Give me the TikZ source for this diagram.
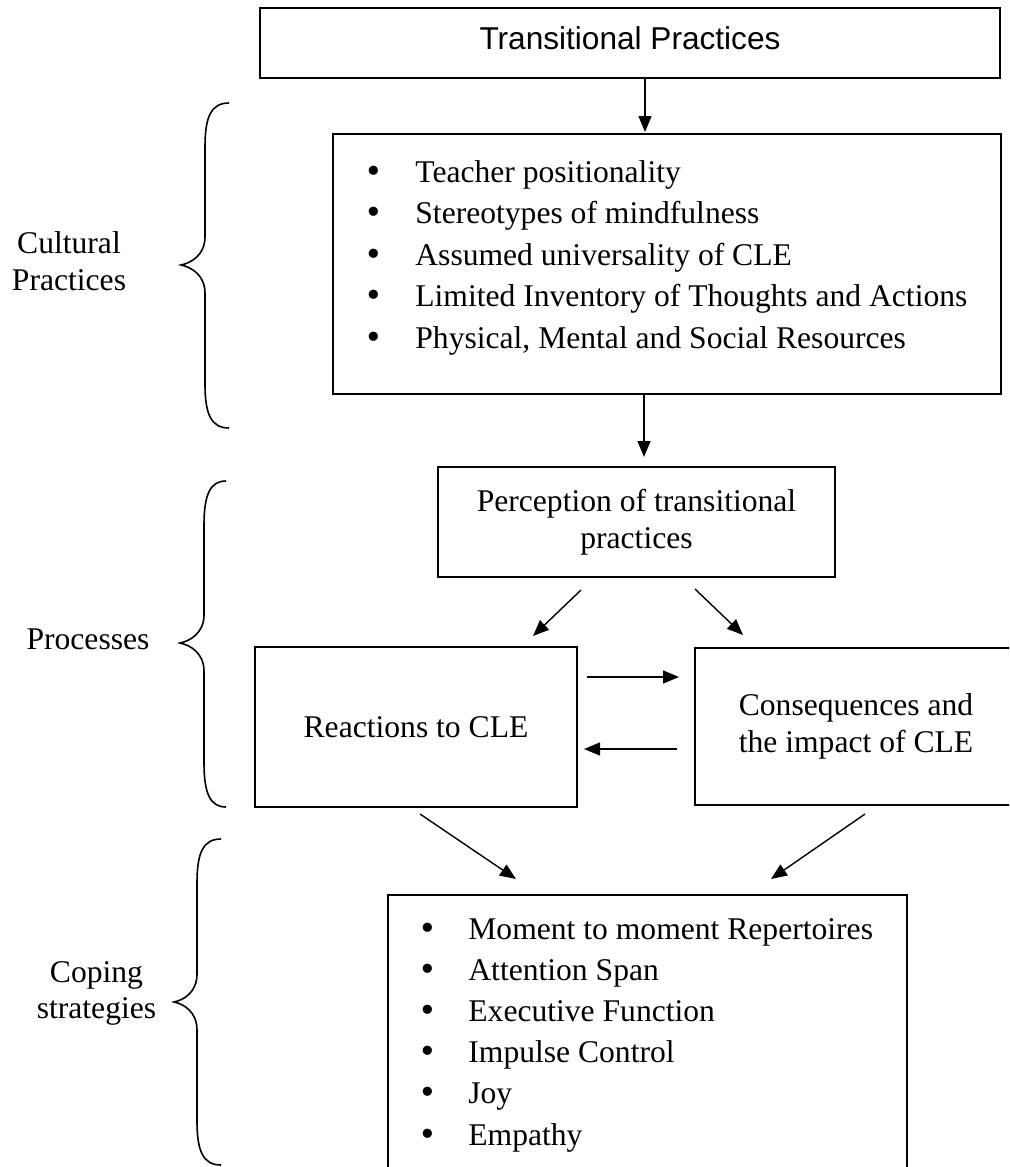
\documentclass[tikz,border=0pt]{standalone}
\usepackage{fontspec}
\setmainfont{Liberation Serif}
\newfontfamily\arialf{Liberation Sans}
\newfontfamily\bulf{DejaVu Sans}
\usetikzlibrary{arrows.meta,calc}
\newcommand\myfs{\fontsize{15.8}{18.75}\selectfont}
\newcommand\mybul{\makebox[0pt]{{\bulf •}}}
\newcommand\wbrace[6]{% xe xs xt yt ym yb
  \draw[brc] (#1,#4) .. controls ({#2+6},#4) and (#2,{#4+14}) .. (#2,{#4+44})
    -- (#2,{#5-28}) .. controls (#2,{#5-10}) and ({#3+10},{#5-2}) .. (#3,#5)
    .. controls ({#3+10},{#5+2}) and (#2,{#5+10}) .. (#2,{#5+28})
    -- (#2,{#6-44}) .. controls (#2,{#6-14}) and ({#2+6},#6) .. (#1,#6);}
\begin{document}
\begin{tikzpicture}[x=0.5pt,y=-0.5pt,
  box/.style={draw, line width=1pt, inner sep=0pt, align=center, font=\myfs},
  arr/.style={line width=0.7pt, -{Triangle[length=8pt,width=6.5pt]}},
  item/.style={anchor=base west, inner sep=0pt, font=\myfs},
  lbl/.style={anchor=base, inner sep=0pt, font=\myfs},
  brc/.style={line width=0.8pt}]
\path[use as bounding box] (0,0) rectangle (1009,1167);
\clip (0,0) rectangle (1009,1167);

% boxes
\node[box, minimum width=370pt, minimum height=35pt, text height=11.3pt, text depth=5.3pt] (title) at (630,43) {\arialf Transitional Practices};
\node[box, minimum width=334pt, minimum height=130pt] (cult) at (667,264) {};
\foreach \t [count=\i] in {Teacher positionality, Stereotypes of mindfulness, Assumed universality of CLE, Limited Inventory of Thoughts and Actions, {Physical, Mental and Social Resources}}
  \node[item] (cult\i) at (373,{182+41.5*(\i-1)}) {\mybul\hspace{21pt}\t};
\node[box, minimum width=198.5pt, minimum height=55pt] (perc) at (636.5,522) {Perception of transitional\\practices};
\node[box, minimum width=161pt, minimum height=80pt] (react) at (416,727) {Reactions to CLE};
\node[box, minimum width=161pt, minimum height=78.5pt] (cons) at (856,726.5) {Consequences and\\the impact of CLE};
\node[box, minimum width=259.5pt, minimum height=160pt] (cope) at (647.5,1055) {};
\foreach \t [count=\i] in {Moment to moment Repertoires, Attention Span, Executive Function, Impulse Control, Joy, Empathy}
  \node[item] (cope\i) at (427,{939+41.2*(\i-1)}) {\mybul\hspace{20.5pt}\t};

% side labels
\node[lbl] (l1a) at (69,253) {Cultural};
\node[lbl] (l1b) at (69,290) {Practices};
\node[lbl] (l2) at (88,649) {Processes};
\node[lbl] (l3a) at (96.5,982) {Coping};
\node[lbl] (l3b) at (96.5,1018) {strategies};

% braces
\wbrace{229}{205}{181}{103}{265}{428}
\wbrace{226}{204}{180}{481}{643}{807}
\wbrace{221}{197}{174}{839}{1002}{1165}

% arrows
\draw[arr] ($(title.south)+(15,0)$) -- ($(cult.north)+(-22,-1)$);
\draw[arr] ($(cult.south)+(-23,0)$) -- ($(perc.north)+(7.5,-9)$);
\draw[arr] ($(perc.south)+(-55.5,12)$) -- ($(react.north)+(117,-10)$);
\draw[arr] ($(perc.south)+(58.5,11)$) -- ($(cons.north)+(-113,-12)$);
\draw[arr] ($(react.east)+(9,-50)$) -- ($(cons.west)+(-15,-49.5)$);
\draw[arr] ($(cons.west)+(-17,22.5)$) -- ($(react.east)+(6,22)$);
\draw[arr] ($(react.south)+(4,6)$) -- ($(cope.north)+(-131.5,-15)$);
\draw[arr] ($(cons.south)+(9,8)$) -- ($(cope.north)+(123.5,-15)$);
\end{tikzpicture}
\end{document}
